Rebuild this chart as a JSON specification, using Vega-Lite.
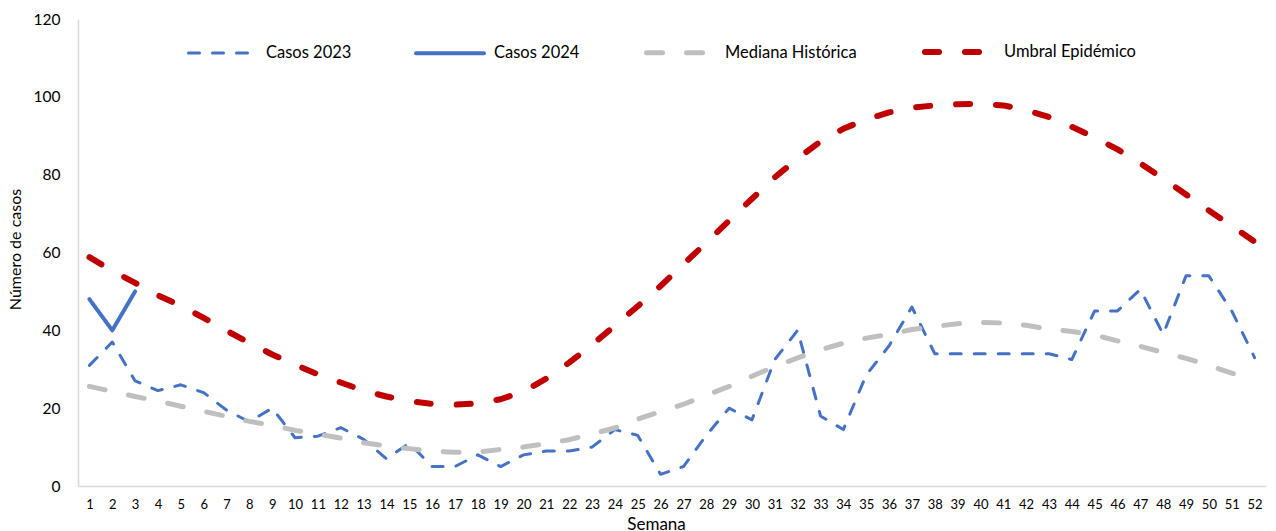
{
  "$schema": "https://vega.github.io/schema/vega-lite/v6.json",
  "width": 1188,
  "height": 467,
  "autosize": {"type": "none"},
  "padding": {"left": 78, "top": 19, "right": 10, "bottom": 45},
  "background": "white",
  "config": {"view": {"stroke": null}, "font": "Lato"},
  "data": {
    "values": [
      {"semana": 1, "c2023": 31, "c2024": 48, "mediana": 25.6, "umbral": 58.8},
      {"semana": 2, "c2023": 37, "c2024": 40, "mediana": 24.3, "umbral": 55.3},
      {"semana": 3, "c2023": 27, "c2024": 50, "mediana": 23.0, "umbral": 52.2},
      {"semana": 4, "c2023": 24.5, "mediana": 21.8, "umbral": 49.0},
      {"semana": 5, "c2023": 26, "mediana": 20.5, "umbral": 46.3},
      {"semana": 6, "c2023": 24, "mediana": 19.2, "umbral": 43.2},
      {"semana": 7, "c2023": 19.5, "mediana": 17.9, "umbral": 39.9},
      {"semana": 8, "c2023": 16.5, "mediana": 16.6, "umbral": 36.8},
      {"semana": 9, "c2023": 20, "mediana": 15.6, "umbral": 33.8},
      {"semana": 10, "c2023": 12.4, "mediana": 14.3, "umbral": 31.2},
      {"semana": 11, "c2023": 12.8, "mediana": 13.3, "umbral": 28.7},
      {"semana": 12, "c2023": 15, "mediana": 12.3, "umbral": 26.6},
      {"semana": 13, "c2023": 12, "mediana": 11.1, "umbral": 24.5},
      {"semana": 14, "c2023": 7, "mediana": 10.3, "umbral": 23.0},
      {"semana": 15, "c2023": 11, "mediana": 9.6, "umbral": 21.8},
      {"semana": 16, "c2023": 5, "mediana": 8.9, "umbral": 21.1},
      {"semana": 17, "c2023": 5, "mediana": 8.7, "umbral": 20.9},
      {"semana": 18, "c2023": 8, "mediana": 8.7, "umbral": 21.2},
      {"semana": 19, "c2023": 5, "mediana": 9.4, "umbral": 22.3},
      {"semana": 20, "c2023": 8, "mediana": 10.0, "umbral": 24.3},
      {"semana": 21, "c2023": 9, "mediana": 10.9, "umbral": 27.6},
      {"semana": 22, "c2023": 9, "mediana": 11.9, "umbral": 31.7},
      {"semana": 23, "c2023": 10, "mediana": 13.4, "umbral": 36.3},
      {"semana": 24, "c2023": 14.5, "mediana": 14.9, "umbral": 41.2},
      {"semana": 25, "c2023": 13, "mediana": 17.2, "umbral": 46.2},
      {"semana": 26, "c2023": 3, "mediana": 19.1, "umbral": 51.4},
      {"semana": 27, "c2023": 5, "mediana": 21.0, "umbral": 57.0},
      {"semana": 28, "c2023": 13, "mediana": 23.3, "umbral": 62.5},
      {"semana": 29, "c2023": 20, "mediana": 25.6, "umbral": 68.2},
      {"semana": 30, "c2023": 17, "mediana": 28.2, "umbral": 73.8},
      {"semana": 31, "c2023": 32.5, "mediana": 30.7, "umbral": 79.3},
      {"semana": 32, "c2023": 40, "mediana": 32.9, "umbral": 84.2},
      {"semana": 33, "c2023": 18, "mediana": 35.0, "umbral": 88.5},
      {"semana": 34, "c2023": 14.5, "mediana": 36.7, "umbral": 91.8},
      {"semana": 35, "c2023": 28.5, "mediana": 38.0, "umbral": 94.2},
      {"semana": 36, "c2023": 36, "mediana": 39.0, "umbral": 96.0},
      {"semana": 37, "c2023": 46, "mediana": 40.2, "umbral": 97.2},
      {"semana": 38, "c2023": 34, "mediana": 41.0, "umbral": 97.8},
      {"semana": 39, "c2023": 34, "mediana": 41.7, "umbral": 98.1},
      {"semana": 40, "c2023": 34, "mediana": 42.0, "umbral": 98.2},
      {"semana": 41, "c2023": 34, "mediana": 41.9, "umbral": 97.8},
      {"semana": 42, "c2023": 34, "mediana": 41.3, "umbral": 96.6},
      {"semana": 43, "c2023": 34, "mediana": 40.3, "umbral": 94.8},
      {"semana": 44, "c2023": 32.5, "mediana": 39.7, "umbral": 92.3},
      {"semana": 45, "c2023": 45, "mediana": 38.8, "umbral": 89.6},
      {"semana": 46, "c2023": 45, "mediana": 37.3, "umbral": 86.5},
      {"semana": 47, "c2023": 50.5, "mediana": 35.9, "umbral": 82.9},
      {"semana": 48, "c2023": 39, "mediana": 34.3, "umbral": 79.0},
      {"semana": 49, "c2023": 54, "mediana": 32.8, "umbral": 74.9},
      {"semana": 50, "c2023": 54, "mediana": 31.0, "umbral": 70.8},
      {"semana": 51, "c2023": 45, "mediana": 29.0, "umbral": 66.8},
      {"semana": 52, "c2023": 33, "mediana": 27.3, "umbral": 62.8}
    ]
  },
  "transform": [
    {"fold": ["c2023", "c2024", "mediana", "umbral"], "as": ["serie", "casos"]}
  ],
  "mark": {"type": "line", "strokeCap": "round", "strokeJoin": "round"},
  "encoding": {
    "x": {
      "field": "semana",
      "type": "ordinal",
      "scale": {"type": "point", "padding": 0.5},
      "axis": {
        "labelAngle": 0,
        "labelFontSize": 13,
        "labelColor": "#000000",
        "labelPadding": 12,
        "ticks": false,
        "grid": false,
        "domainColor": "#D9D9D9",
        "domainWidth": 1.5,
        "title": "Semana",
        "titleFontSize": 17,
        "titleFontWeight": "normal",
        "titleColor": "#000000",
        "titleX": 578,
        "titleY": 30,
        "titleBaseline": "top"
      }
    },
    "y": {
      "field": "casos",
      "type": "quantitative",
      "scale": {"domain": [0, 120]},
      "axis": {
        "values": [0, 20, 40, 60, 80, 100, 120],
        "labelFontSize": 15.5,
        "labelColor": "#000000",
        "labelPadding": 18,
        "ticks": false,
        "grid": false,
        "domainColor": "#D9D9D9",
        "domainWidth": 1.5,
        "title": "Número de casos",
        "titleFontSize": 16,
        "titleFontWeight": "normal",
        "titleColor": "#000000",
        "titleX": -63,
        "titleY": 230,
        "titleBaseline": "middle"
      }
    },
    "color": {
      "field": "serie",
      "type": "nominal",
      "scale": {
        "domain": ["c2023", "c2024", "mediana", "umbral"],
        "range": ["#4472C4", "#4472C4", "#BFBFBF", "#C00000"]
      },
      "legend": {
        "title": null,
        "orient": "none",
        "direction": "horizontal",
        "legendX": 109,
        "legendY": -4,
        "symbolType": "stroke",
        "symbolSize": 4624,
        "labelOffset": 8,
        "columnPadding": 56,
        "labelFontSize": 16.5,
        "labelColor": "#000000",
        "labelExpr": "{'c2023':'Casos 2023','c2024':'Casos 2024','mediana':'Mediana Histórica','umbral':'Umbral Epidémico'}[datum.label]",
        "encode": {"symbols": {"update": {"strokeCap": {"value": "round"}}}}
      }
    },
    "strokeDash": {
      "field": "serie",
      "type": "nominal",
      "scale": {
        "domain": ["c2023", "c2024", "mediana", "umbral"],
        "range": [[11, 13], [1, 0], [16, 24], [14, 26]]
      },
      "legend": null
    },
    "strokeWidth": {
      "field": "serie",
      "type": "nominal",
      "scale": {
        "domain": ["c2023", "c2024", "mediana", "umbral"],
        "range": [3, 6, 6, 5.5]
      },
      "legend": null
    }
  }
}
